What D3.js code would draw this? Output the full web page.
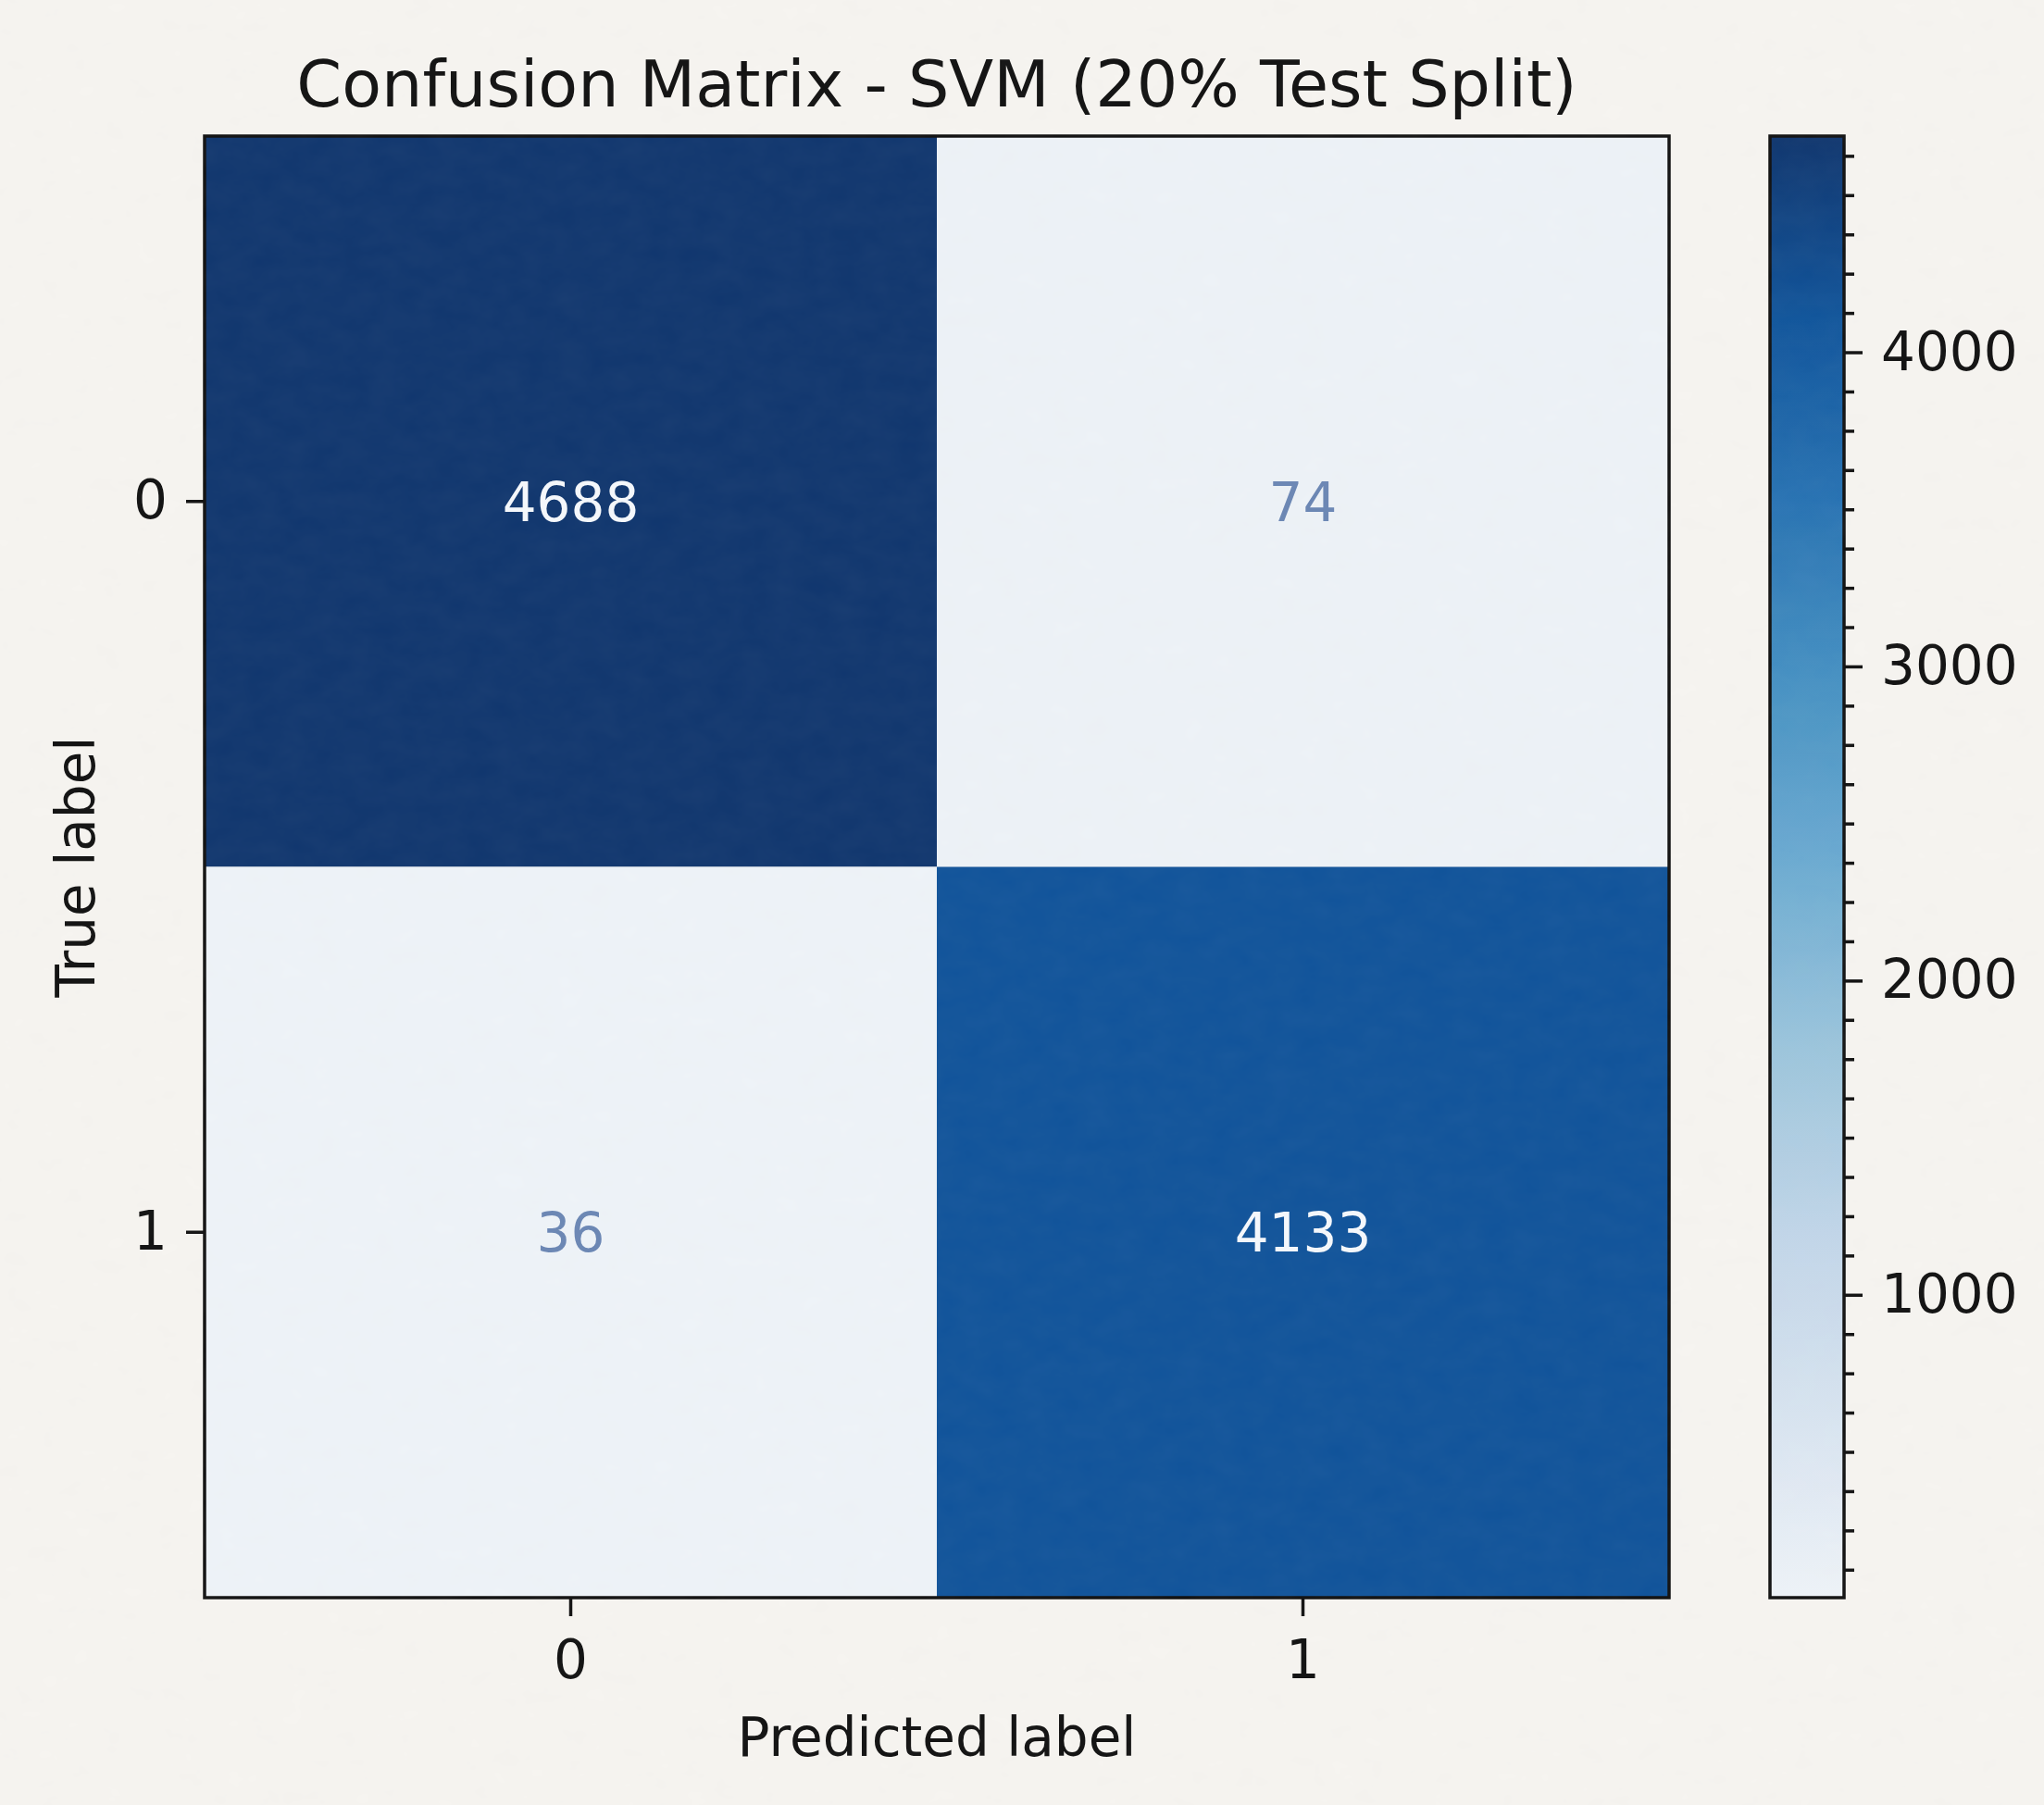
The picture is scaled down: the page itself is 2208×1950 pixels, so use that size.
<!DOCTYPE html>
<html>
<head>
<meta charset="utf-8">
<script src="https://cdn.jsdelivr.net/npm/d3@7"></script>
<style>
  html,body{margin:0;padding:0;background:#f5f3ef;}
  text{font-family:"DejaVu Sans",sans-serif;}
</style>
</head>
<body>
<div class="cm-container"></div>
<script>
//Data
const trueLabels = ['0', '1'];
const predLabels = ['0', '1'];
const counts = [
  [4688, 74],
  [36, 4133]
];
const colorbarTicks = [1000, 2000, 3000, 4000];
const chartTitle = 'Confusion Matrix - SVM (20% Test Split)';

//把矩陣攤平成格子
function prepareCells(){
  const cells = [];
  trueLabels.forEach((t, i) => {
    predLabels.forEach((p, j) => {
      cells.push({true_label:t, pred_label:p, count:counts[i][j]});
    });
  });
  return cells;
}

function setupCanvas(cells){
  const svg_width = 2208;
  const svg_height = 1950;
  const plot = {left:221, top:147, right:1803, bottom:1726};
  const cbar = {left:1912, right:1992};
  const fontSize = 58;

  const svg = d3.select('.cm-container').append('svg')
    .attr('width', svg_width).attr('height', svg_height);

  //紙張紋理
  const defs = svg.append('defs');
  const paper = defs.append('filter').attr('id', 'paper')
    .attr('x', 0).attr('y', 0).attr('width', '100%').attr('height', '100%');
  paper.append('feTurbulence').attr('type', 'fractalNoise')
    .attr('baseFrequency', '0.03 0.045').attr('numOctaves', 3).attr('seed', 7);
  paper.append('feColorMatrix').attr('type', 'matrix')
    .attr('values', '0 0 0 0 0.6  0 0 0 0 0.59  0 0 0 0 0.57  0 0 0 0.05 0');

  svg.append('rect').attr('width', svg_width).attr('height', svg_height)
    .style('fill', '#f6f4f0');

  //matplotlib Blues:九色線性分段
  const vExtent = d3.extent(cells, d => d.count);
  const bluesInterp = d3.piecewise(d3.interpolateRgb, d3.schemeBlues[9]);
  const blues = d3.scaleSequential(bluesInterp).domain(vExtent);
  const tint = c => d3.interpolateRgb(c, '#7d8494')(0.07);

  const xScale = d3.scaleBand().domain(predLabels).range([plot.left, plot.right]);
  const yScale = d3.scaleBand().domain(trueLabels).range([plot.top, plot.bottom]);

  //格子
  svg.selectAll('.cell').data(cells).enter()
    .append('rect').attr('class', 'cell')
    .attr('x', d => xScale(d.pred_label))
    .attr('y', d => yScale(d.true_label))
    .attr('width', xScale.bandwidth())
    .attr('height', yScale.bandwidth())
    .style('fill', d => tint(blues(d.count)));

  const mid = (vExtent[0] + vExtent[1]) / 2;
  svg.selectAll('.cell-text').data(cells).enter()
    .append('text').attr('class', 'cell-text')
    .attr('x', d => xScale(d.pred_label) + xScale.bandwidth() / 2)
    .attr('y', d => yScale(d.true_label) + yScale.bandwidth() / 2)
    .attr('dy', '0.36em')
    .attr('text-anchor', 'middle')
    .style('font-size', fontSize + 'px')
    .style('fill', d => d.count > mid ? '#f5f8fc' : '#6a86b4')
    .text(d => d.count);

  //軸
  const xAxis = d3.axisBottom(xScale).tickSize(20).tickPadding(26).tickSizeOuter(0);
  const xAxisDraw = svg.append('g').attr('class', 'xaxis')
    .attr('transform', `translate(0,${plot.bottom})`).call(xAxis);
  const yAxis = d3.axisLeft(yScale).tickSize(20).tickPadding(20).tickSizeOuter(0);
  const yAxisDraw = svg.append('g').attr('class', 'yaxis')
    .attr('transform', `translate(${plot.left},0)`).call(yAxis);
  [xAxisDraw, yAxisDraw].forEach(g => {
    g.select('.domain').remove();
    g.selectAll('line').style('stroke', '#111').style('stroke-width', 3.5);
    g.selectAll('text').style('font-size', fontSize + 'px').style('fill', '#111')
      .style('font-family', '"DejaVu Sans",sans-serif');
  });

  svg.append('rect')
    .attr('x', plot.left).attr('y', plot.top)
    .attr('width', plot.right - plot.left).attr('height', plot.bottom - plot.top)
    .style('fill', 'none').style('stroke', '#111').style('stroke-width', 3.5);

  //色條
  const cScale = d3.scaleLinear().domain(vExtent).range([plot.bottom, plot.top]);
  const grad = defs.append('linearGradient').attr('id', 'cbar-grad')
    .attr('x1', 0).attr('y1', 1).attr('x2', 0).attr('y2', 0);
  grad.selectAll('stop').data(d3.range(0, 1.0001, 0.025)).enter()
    .append('stop')
    .attr('offset', d => d)
    .attr('stop-color', d => tint(blues(vExtent[0] + d * (vExtent[1] - vExtent[0]))));

  svg.append('rect')
    .attr('x', cbar.left).attr('y', plot.top)
    .attr('width', cbar.right - cbar.left).attr('height', plot.bottom - plot.top)
    .style('fill', 'url(#cbar-grad)');

  const minorTicks = d3.range(125, vExtent[1], 125).filter(v => v % 1000 !== 0);
  const cMinor = d3.axisRight(cScale).tickValues(minorTicks).tickSize(11).tickFormat('');
  const cMinorDraw = svg.append('g').attr('class', 'cbar-minor')
    .attr('transform', `translate(${cbar.right},0)`).call(cMinor);
  const cMajor = d3.axisRight(cScale).tickValues(colorbarTicks)
    .tickSize(20).tickPadding(20).tickFormat(d3.format('d'));
  const cMajorDraw = svg.append('g').attr('class', 'cbar-major')
    .attr('transform', `translate(${cbar.right},0)`).call(cMajor);
  [cMinorDraw, cMajorDraw].forEach(g => {
    g.select('.domain').remove();
    g.selectAll('line').style('stroke', '#111').style('stroke-width', 3.5);
    g.selectAll('text').style('font-size', fontSize + 'px').style('fill', '#111')
      .style('font-family', '"DejaVu Sans",sans-serif');
  });

  svg.append('rect')
    .attr('x', cbar.left).attr('y', plot.top)
    .attr('width', cbar.right - cbar.left).attr('height', plot.bottom - plot.top)
    .style('fill', 'none').style('stroke', '#111').style('stroke-width', 3.5);

  //標題與軸標籤
  svg.append('text').attr('class', 'title')
    .attr('x', (plot.left + plot.right) / 2).attr('y', 115)
    .attr('text-anchor', 'middle')
    .style('font-size', '70px').style('fill', '#111')
    .text(chartTitle);

  svg.append('text').attr('class', 'xlabel')
    .attr('x', (plot.left + plot.right) / 2).attr('y', 1897)
    .attr('text-anchor', 'middle')
    .style('font-size', fontSize + 'px').style('fill', '#111')
    .text('Predicted label');

  svg.append('text').attr('class', 'ylabel')
    .attr('transform', `translate(102,${(plot.top + plot.bottom) / 2}) rotate(-90)`)
    .attr('text-anchor', 'middle')
    .style('font-size', fontSize + 'px').style('fill', '#111')
    .text('True label');

  svg.append('rect').attr('width', svg_width).attr('height', svg_height)
    .attr('filter', 'url(#paper)').style('pointer-events', 'none');
}

//Main
setupCanvas(prepareCells());
</script>
</body>
</html>
